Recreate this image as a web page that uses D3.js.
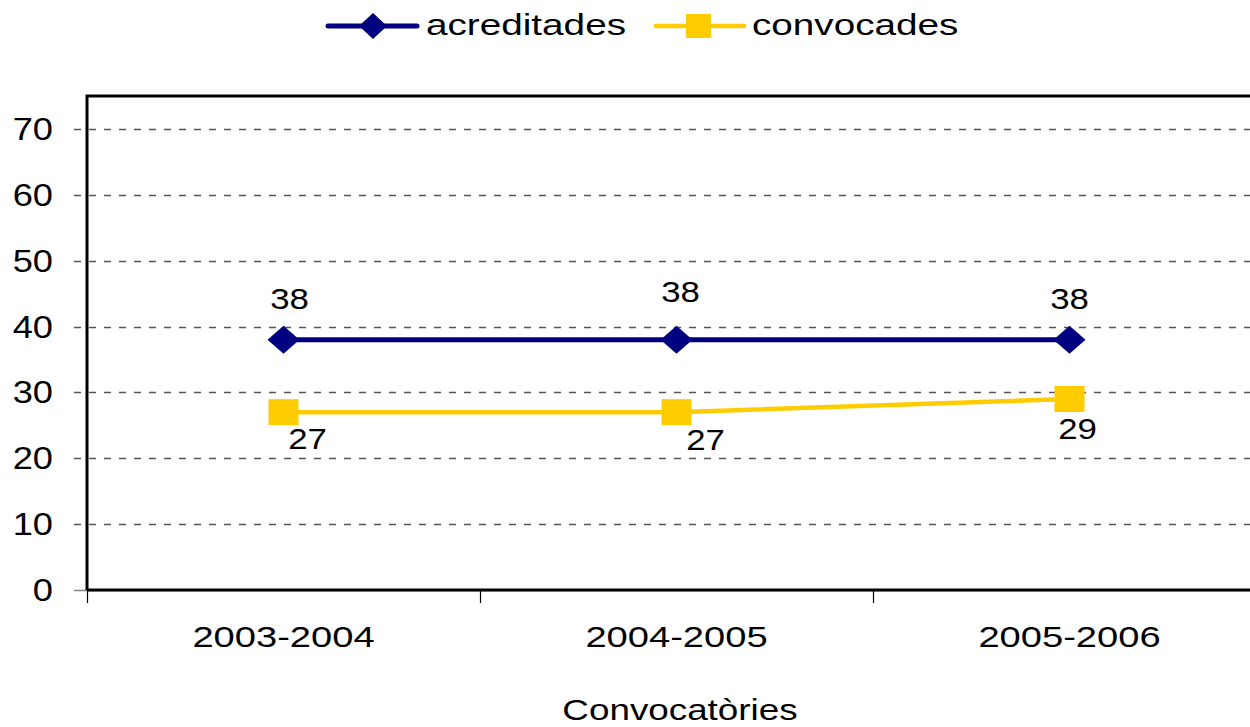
<!DOCTYPE html>
<html><head><meta charset="utf-8">
<script src="https://cdn.jsdelivr.net/npm/d3@7"></script>
<style>
body{margin:0;background:#fff;}
text{font-family:"Liberation Sans",Arial,sans-serif;fill:#000;}
</style></head>
<body>
<svg id="c" width="1250" height="727"></svg>
<script>
const categories = ["2003-2004","2004-2005","2005-2006"];
const acreditades = [38,38,38];
const convocades = [27,27,29];
const yTicks = [0,10,20,30,40,50,60,70];
const seriesNames = ["acreditades","convocades"];
const axisTitle = "Convocatòries";

(function(){
const svg = d3.select("#c");
const pLeft = 87, pTop = 96, pBottom = 590, pRight = 1266;
const SX = 1.25;

const x = d3.scaleBand().domain(categories).range([pLeft, pRight]);
const y = d3.scaleLinear().domain([0,75]).range([pBottom, pTop]);

function stxt(g, str, px, py, anchor, size, sx){
  return g.append("text").attr("transform",`translate(${px},${py}) scale(${sx||SX},1)`)
    .attr("text-anchor",anchor).attr("font-size",size).text(str);
}

// gridlines
svg.append("g").selectAll("line").data(yTicks).join("line")
  .attr("x1",74).attr("x2",1250)
  .attr("y1",d=>Math.round(y(d))+0.5).attr("y2",d=>Math.round(y(d))+0.5)
  .attr("stroke",d=>d===0?"#808080":"#555").attr("stroke-width",1.3)
  .attr("stroke-dasharray",d=>d===0?null:"7,8");

// y axis labels
const gy = svg.append("g");
yTicks.forEach(t=>stxt(gy, String(t), 53, y(t)+11, "end", 31, 1.17));

// x axis ticks (band edges)
const edges = categories.map(c=>x(c));
svg.append("g").selectAll("line").data(edges).join("line")
  .attr("x1",d=>d+0.5).attr("x2",d=>d+0.5).attr("y1",pBottom).attr("y2",pBottom+13)
  .attr("stroke","#000").attr("stroke-width",1.2);

// frame
svg.append("path").attr("d",`M${pLeft},${pBottom}V${pTop}H1250`).attr("fill","none")
  .attr("stroke","#000").attr("stroke-width",3);
svg.append("line").attr("x1",pLeft).attr("x2",1250).attr("y1",pBottom).attr("y2",pBottom)
  .attr("stroke","#000").attr("stroke-width",3);

// category labels
const gx = svg.append("g");
categories.forEach(c=>stxt(gx, c, x(c)+x.bandwidth()/2, 647, "middle", 30, 1.27));
stxt(svg, axisTitle, 680, 720, "middle", 29, 1.27);

const cx = c=>x(c)+x.bandwidth()/2;
const blue = "#000080", yellow = "#FFCC00";

// convocades line
svg.append("path").datum(convocades)
  .attr("d", d3.line().x((d,i)=>cx(categories[i])).y(d=>y(d)))
  .attr("fill","none").attr("stroke",yellow).attr("stroke-width",4.5);
svg.append("g").selectAll("rect").data(convocades).join("rect")
  .attr("x",(d,i)=>cx(categories[i])-15).attr("y",d=>y(d)-13)
  .attr("width",30).attr("height",26).attr("fill",yellow);

// acreditades line
svg.append("path").datum(acreditades)
  .attr("d", d3.line().x((d,i)=>cx(categories[i])).y(d=>y(d)))
  .attr("fill","none").attr("stroke",blue).attr("stroke-width",5);
svg.append("g").selectAll("path").data(acreditades).join("path")
  .attr("d",(d,i)=>{const px=cx(categories[i]), py=y(d);
    return `M${px-16},${py}L${px},${py-14}L${px+16},${py}L${px},${py+14}Z`;})
  .attr("fill",blue);

// data labels (nudges)
const aNudge = [[6,-31],[4,-38],[0,-31]];
const cNudge = [[24,37],[29,38],[8,40]];
acreditades.forEach((v,i)=>stxt(svg, String(v), cx(categories[i])+aNudge[i][0], y(v)+aNudge[i][1], "middle", 29, 1.2));
convocades.forEach((v,i)=>stxt(svg, String(v), cx(categories[i])+cNudge[i][0], y(v)+cNudge[i][1], "middle", 29, 1.2));

// legend
const lg = svg.append("g");
lg.append("line").attr("x1",328).attr("x2",417).attr("y1",26).attr("y2",26)
  .attr("stroke",blue).attr("stroke-width",5).attr("stroke-linecap","round");
lg.append("path").attr("d","M359,26L373,13L387,26L373,39Z").attr("fill",blue);
stxt(lg, seriesNames[0], 426, 35, "start", 30, 1.29);
lg.append("line").attr("x1",656).attr("x2",744).attr("y1",26).attr("y2",26)
  .attr("stroke",yellow).attr("stroke-width",4.5).attr("stroke-linecap","round");
lg.append("rect").attr("x",686).attr("y",14).attr("width",25).attr("height",24).attr("fill",yellow);
stxt(lg, seriesNames[1], 752, 35, "start", 30, 1.29);
})();
</script>
</body></html>
